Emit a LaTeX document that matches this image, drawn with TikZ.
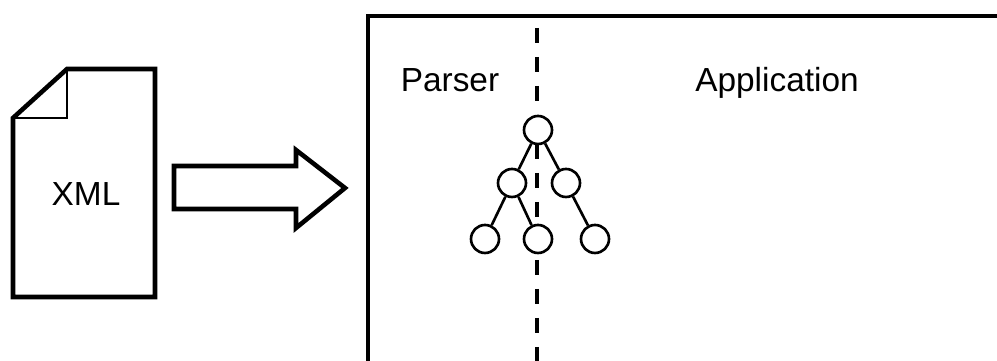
\documentclass[tikz,border=0pt]{standalone}
\usepackage{fontspec}
\setmainfont{Liberation Sans}
\usetikzlibrary{positioning,calc}
\tikzset{
    heavy/.style={line width=2.6pt, line join=miter},
    treenode/.style={circle, draw, fill=white, line width=1.5pt, minimum size=0.56cm, inner sep=0pt},
    treeedge/.style={line width=1.5pt},
    label19/.style={font=\fontsize{19}{21}\selectfont, anchor=base, inner sep=0pt}
}
\begin{document}
\begin{tikzpicture}
    \useasboundingbox (0,0) rectangle (19.94,7.22);
    % Document
    \draw [heavy] (1.34,5.84) -- (3.10,5.84) -- (3.10,1.28) -- (0.26,1.28) -- (0.26,4.86) -- cycle;
    \draw [line width=1.4pt] (0.26,4.86) -- (1.34,4.86) -- (1.34,5.84);
    \node [label19] (xml) at (1.72,3.10) {XML};
    % Block arrow
    \draw [heavy] (3.48,3.90) -- (5.92,3.90) -- (5.92,4.22) -- (6.90,3.46) -- (5.92,2.66) -- (5.92,3.04) -- (3.48,3.04) -- cycle;
    % Container
    \draw [heavy] (19.94,6.90) -- (7.36,6.90) -- (7.36,0);
    \node [label19] (parser) at (9.00,5.38) {Parser};
    \node [label19] (application) at (15.54,5.38) {Application};
    % Divider
    \coordinate (divtop) at (10.74,6.66);
    \coordinate (divbot) at (10.74,0);
    \draw [line width=1.8pt, dash pattern=on 0.30cm off 0.28cm] (divtop) -- (divbot);
    % Tree
    \node [treenode] (root) at (10.76,4.62) {};
    \node [treenode] (left) at (10.24,3.56) {};
    \node [treenode] (right) at (11.32,3.56) {};
    \node [treenode] (leafa) at (9.70,2.44) {};
    \node [treenode] (leafb) at (10.76,2.44) {};
    \node [treenode] (leafc) at (11.90,2.44) {};
    \draw [treeedge] (root) -- (left);
    \draw [treeedge] (root) -- (right);
    \draw [treeedge] (left) -- (leafa);
    \draw [treeedge] (left) -- (leafb);
    \draw [treeedge] (right) -- (leafc);
\end{tikzpicture}
\end{document}
